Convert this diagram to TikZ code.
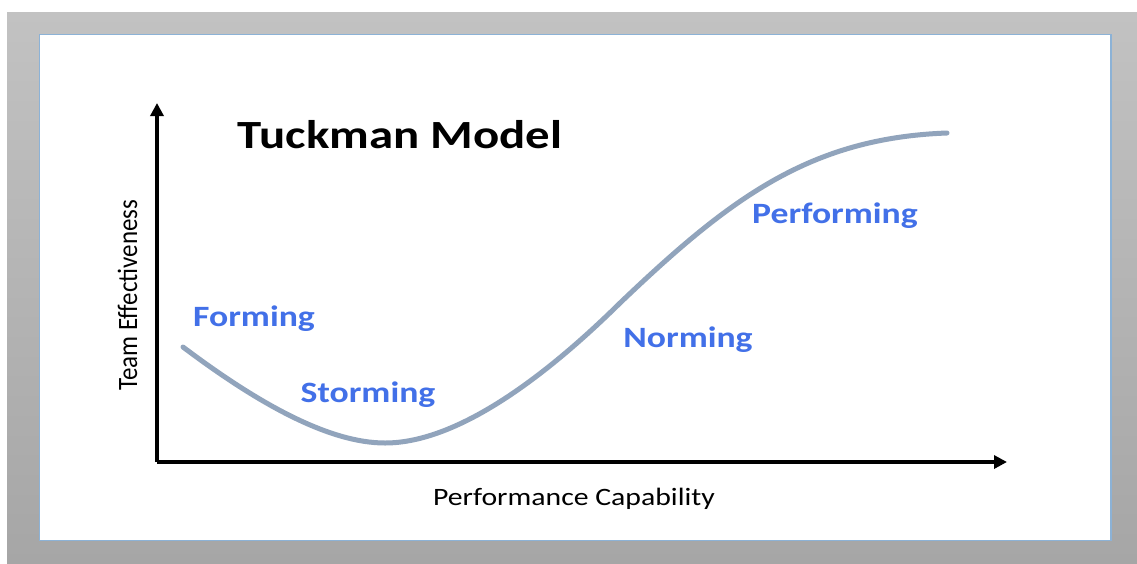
\documentclass[tikz,border=0pt]{standalone}
\usepackage{fontspec}
\setmainfont{Carlito}
\usetikzlibrary{arrows.meta}
\definecolor{framegrayA}{RGB}{194,194,194}
\definecolor{framegrayB}{RGB}{166,166,166}
\definecolor{panelborder}{RGB}{140,178,214}
\definecolor{curvecol}{RGB}{145,164,188}
\definecolor{stageblue}{RGB}{66,112,232}
\tikzset{
  axisline/.style={line width=3.4pt, -{Triangle[length=13pt,width=13pt]}},
  stagelabel/.style={font=\bfseries\fontsize{29.5}{32}\selectfont, text=stageblue, inner sep=0pt, anchor=base, xscale=1.21},
  axislabel/.style={font=\fontsize{25}{27}\selectfont, inner sep=0pt, anchor=base},
}
\begin{document}
\begin{tikzpicture}[x=1pt,y=-1pt]
\useasboundingbox (0,0) rectangle (1137,563);
\fill[white] (0,0) rectangle (1137,563);
\shade[top color=framegrayA, bottom color=framegrayB] (7,12) rectangle (1137,563);
\fill[white, draw=panelborder, line width=1.5pt] (39.5,34.5) rectangle (1111,540.5);
% axes
\coordinate (o) at (157,462);
\coordinate (ytip) at (157,103);
\coordinate (xtip) at (1007,462);
\draw[axisline] (o) -- (ytip);
\draw[axisline] (o) -- (xtip);
% curve
\coordinate (c0) at (183,347);
\coordinate (c1) at (385,443);
\coordinate (c2) at (620,303);
\coordinate (c3) at (947,133);
\draw[curvecol, line width=5pt, line cap=round]
  (c0) .. controls (260,405) and (330,443) .. (c1)
       .. controls (460,443) and (550,372) .. (c2)
       .. controls (730,198) and (810,138) .. (c3);
% title
\node[font=\bfseries\fontsize{40}{44}\selectfont, inner sep=0pt, anchor=base, xscale=1.22] (title) at (400,148) {Tuckman Model};
% axis labels
\node[axislabel, xscale=1.12, rotate=90] (ylab) at (137,295) {Team Effectiveness};
\node[axislabel, xscale=1.19] (xlab) at (574,505) {Performance Capability};
% stage labels
\node[stagelabel] (forming) at (254,326) {Forming};
\node[stagelabel] (storming) at (368,402) {Storming};
\node[stagelabel] (norming) at (688,347) {Norming};
\node[stagelabel] (performing) at (835,223) {Performing};
\end{tikzpicture}
\end{document}
